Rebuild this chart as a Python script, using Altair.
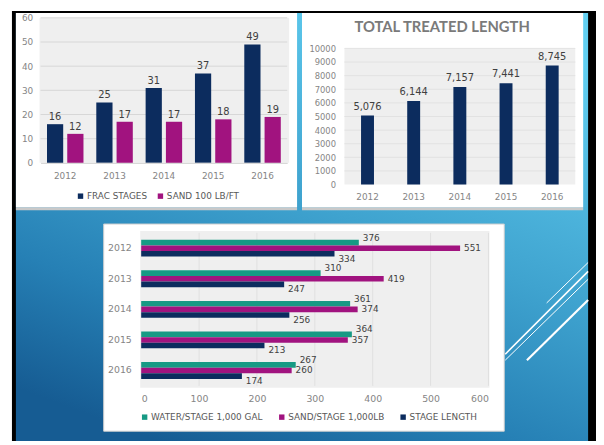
import altair as alt
import pandas as pd

# ---------------- data ----------------
years = ["2012", "2013", "2014", "2015", "2016"]

frac_stages = [16, 25, 31, 37, 49]
sand_lb_ft = [12, 17, 17, 18, 19]
series1 = ["FRAC STAGES", "SAND 100 LB/FT"]

treated_length = [5076, 6144, 7157, 7441, 8745]

water_per_stage = [376, 310, 361, 364, 267]
sand_per_stage = [551, 419, 374, 357, 260]
stage_length = [334, 247, 256, 213, 174]
series3 = ["WATER/STAGE 1,000 GAL", "SAND/STAGE 1,000LB", "STAGE LENGTH"]

ticks1 = [0, 10, 20, 30, 40, 50, 60]
ticks2 = [0, 1000, 2000, 3000, 4000, 5000, 6000, 7000, 8000, 9000, 10000]
ticks3 = [0, 100, 200, 300, 400, 500, 600]

# ---------------- styles ----------------
NAVY = "#0c2c5e"
MAG = "#a1137f"
TEAL = "#169a84"
FONT = "DejaVu Sans"
TICK = "#858585"
LAB = "#404040"
PLOTBG = "#efefef"

df1 = pd.DataFrame({
    "year": years * 2,
    "series": [series1[0]] * 5 + [series1[1]] * 5,
    "value": frac_stages + sand_lb_ft,
})
df2 = pd.DataFrame({"year": years, "value": treated_length})
df3 = pd.DataFrame({
    "year": years * 3,
    "series": [series3[0]] * 5 + [series3[1]] * 5 + [series3[2]] * 5,
    "value": water_per_stage + sand_per_stage + stage_length,
})

ONE = alt.Data(values=[{}])


def deco_rect(x, x2, y, y2, **kw):
    return alt.Chart(ONE).mark_rect(**kw).encode(
        x=alt.value(x), x2=alt.value(x2), y=alt.value(y), y2=alt.value(y2))


def deco_line(x, y, x2, y2, w):
    return alt.Chart(ONE).mark_rule(color="white", strokeWidth=w).encode(
        x=alt.value(x), y=alt.value(y), x2=alt.value(x2), y2=alt.value(y2))


gradient = {
    "gradient": "linear",
    "x1": 0.75, "y1": 0, "x2": 0.25, "y2": 1,
    "stops": [
        {"offset": 0, "color": "#62cff1"},
        {"offset": 0.45, "color": "#3fa3cf"},
        {"offset": 0.75, "color": "#2680b5"},
        {"offset": 1, "color": "#165c93"},
    ],
}

# ---------------- chart 1 (origin = its plot area) ----------------
W1, H1 = 250, 147
x1enc = alt.X("year:N", title=None,
              scale=alt.Scale(paddingInner=0.26, paddingOuter=0.13),
              axis=alt.Axis(labelAngle=0, labelPadding=9, ticks=False, labelFont=FONT,
                            labelFontSize=9, labelColor=TICK, domainColor="#d0d0d0", zindex=1))
y1enc = alt.Y("value:Q", title=None,
              scale=alt.Scale(domain=[0, 60], nice=False),
              axis=alt.Axis(values=ticks1, labelPadding=8, ticks=False, domain=False, grid=False,
                            labelFont=FONT, labelFontSize=9, labelColor=TICK, zindex=1))
xo1 = alt.XOffset("series:N", scale=alt.Scale(domain=series1, paddingInner=0.2))
c1color = alt.Color("series:N", scale=alt.Scale(domain=series1, range=[NAVY, MAG]),
                    legend=alt.Legend(orient="none", legendX=36, legendY=176, direction="horizontal",
                                      title=None, symbolType="square", symbolSize=30,
                                      labelFont=FONT, labelFontSize=9, labelColor="#595959",
                                      columnPadding=8, labelOffset=2, zindex=1))

c1 = alt.layer(
    deco_rect(-29, 563, -7, 429, fill="black"),
    deco_rect(-25, 555, -5, 429, fill=gradient),
    deco_line(513, 289, 555, 248, 1),
    deco_line(471, 341, 555, 257, 1.6),
    deco_line(471, 347, 555, 265, 1),
    deco_line(493, 347, 555, 286, 2.2),
    deco_rect(-25, 260, 192, 195, fill="#c9c9c9"),
    deco_rect(-25, 260, -5, 192, fill="white"),
    deco_rect(-1, 252, 0, 147, fill=PLOTBG),
    alt.Chart(pd.DataFrame({"value": ticks1[1:]})).mark_rule(color="#d6d6d6", strokeWidth=1).encode(y=y1enc),
    alt.Chart(df1).mark_bar().encode(x=x1enc, xOffset=xo1, y=y1enc, color=c1color),
    alt.Chart(df1).mark_text(dy=-4, baseline="alphabetic", font=FONT, fontSize=10, color=LAB).encode(
        x=x1enc, xOffset=xo1, y=y1enc, text="value:Q"),
).properties(width=W1, height=H1)

# ---------------- chart 2 ----------------
W2, H2 = 234, 169
x2enc = alt.X("year:N", title=None,
              scale=alt.Scale(paddingInner=0.72, paddingOuter=0.36),
              axis=alt.Axis(labelAngle=0, labelPadding=8, ticks=False, domain=False, labelFont=FONT,
                            labelFontSize=9, labelColor=TICK, zindex=1))
y2enc = alt.Y("value:Q", title=None,
              scale=alt.Scale(domain=[0, 10000 * H2 / 138], nice=False, zero=True),
              axis=alt.Axis(values=ticks2, format="d", labelPadding=9, ticks=False, domain=False,
                            grid=False, labelFont=FONT, labelFontSize=8.5, labelColor=TICK, zindex=1))

c2 = alt.layer(
    deco_rect(-43, 242, 192, 195, fill="#c9c9c9"),
    deco_rect(-43, 242, -5, 192, fill="white"),
    deco_rect(0, 234, 31, 169, fill=PLOTBG),
    alt.Chart(pd.DataFrame({"value": ticks2[1:]})).mark_rule(color="#e2e2e2", strokeWidth=1).encode(y=y2enc),
    alt.Chart(df2).mark_bar(color=NAVY).encode(x=x2enc, y=y2enc),
    alt.Chart(df2).mark_text(dy=-6, baseline="alphabetic", font=FONT, fontSize=10, color=LAB).encode(
        x=x2enc, y=y2enc, text=alt.Text("value:Q", format=",")),
    alt.Chart(ONE).mark_text(text="TOTAL TREATED LENGTH", font="Lato", fontWeight="bold", fontSize=15,
                             color="#7a7a7a", align="center", baseline="middle").encode(
        x=alt.value(99), y=alt.value(9)),
).properties(width=W2, height=H2)

# ---------------- chart 3 ----------------
W3, H3 = 454, 155
x3enc = alt.X("value:Q", title=None,
              scale=alt.Scale(domain=[0, 600], range=[102, 454], nice=False),
              axis=alt.Axis(values=ticks3, labelPadding=8, ticks=False, domain=False, grid=False,
                            labelFont=FONT, labelFontSize=9.5, labelColor=TICK, zindex=1))
y3enc = alt.Y("year:N", title=None,
              scale=alt.Scale(paddingInner=0.45, paddingOuter=0.225),
              axis=alt.Axis(offset=-102, labelPadding=10, ticks=False, domain=False,
                            labelFont=FONT, labelFontSize=9.5, labelColor=TICK, zindex=1))
yo3 = alt.YOffset("series:N", scale=alt.Scale(domain=series3, paddingInner=0))
c3color = alt.Color("series:N", scale=alt.Scale(domain=series3, range=[TEAL, MAG, NAVY]),
                    legend=alt.Legend(orient="none", legendX=101, legendY=182, direction="horizontal",
                                      title=None, symbolType="square", symbolSize=30, labelLimit=300,
                                      labelFont=FONT, labelFontSize=9, labelColor="#595959",
                                      columnPadding=14, labelOffset=2, zindex=1))

label_dy = [-5, 0, 5]
text_layers = [
    alt.Chart(df3).transform_filter(alt.datum.series == s).mark_text(
        align="left", dx=4, dy=d, baseline="middle", font=FONT, fontSize=9, color=LAB).encode(
        x=x3enc, y=y3enc, yOffset=yo3, text="value:Q")
    for s, d in zip(series3, label_dy)
]

c3 = alt.layer(
    deco_rect(64, 470, -9, 201, fill="white", stroke="#cfcfcf", strokeWidth=1),
    deco_rect(101, 455, -2, 157, fill=PLOTBG),
    alt.Chart(pd.DataFrame({"value": ticks3[1:]})).mark_rule(color="#e0e0e0", strokeWidth=1).encode(x=x3enc),
    alt.Chart(df3).mark_bar().encode(x=x3enc, y=y3enc, yOffset=yo3, color=c3color),
    *text_layers,
).properties(width=W3, height=H3)

row1 = alt.hconcat(c1, c2, spacing=58, bounds="flush").resolve_scale(color="independent")
chart = alt.vconcat(row1, c3, spacing=218, bounds="flush").resolve_scale(color="independent").properties(
    padding={"left": 4, "top": 0, "right": 0, "bottom": 0},
    background="white",
).configure_view(stroke=None)

chart.save("out.html", embed_options={"renderer": "svg", "actions": False})
